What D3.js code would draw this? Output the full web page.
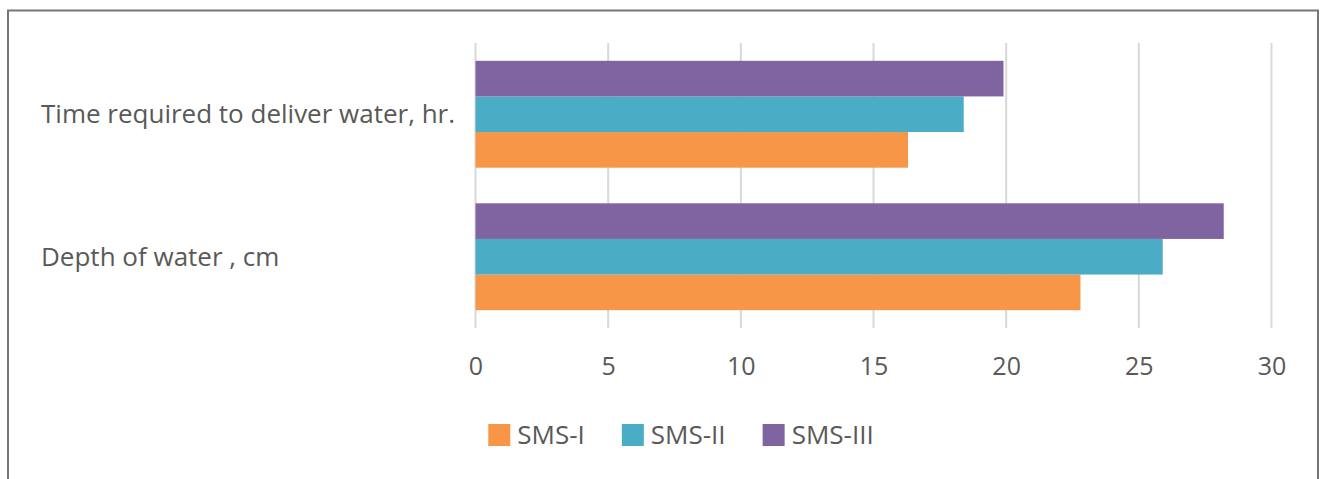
<!DOCTYPE html>
<html>
<head>
<meta charset="utf-8">
<script src="https://cdn.jsdelivr.net/npm/d3@7"></script>
<style>
  body { margin: 0; background: #fff; }
  text { font-family: "Open Sans", sans-serif; fill: #595959; }
</style>
</head>
<body>
<div id="chart"></div>
<script>
// data
const categories = ["Time required to deliver water, hr.", "Depth of water , cm"];
const seriesNames = ["SMS-I", "SMS-II", "SMS-III"];
const seriesColors = ["#f79646", "#4bacc6", "#8064a2"];
const smsI = [16.3, 22.8];
const smsII = [18.4, 25.9];
const smsIII = [19.9, 28.2];
const xTicks = [0, 5, 10, 15, 20, 25, 30];

const seriesValues = [smsI, smsII, smsIII];

const width = 1321, height = 479;
const svg = d3.select("#chart").append("svg")
    .attr("width", width)
    .attr("height", height);

// chart frame
svg.append("rect")
    .attr("x", 8).attr("y", 10.5)
    .attr("width", 1310).attr("height", 500)
    .attr("fill", "none")
    .attr("stroke", "#767676")
    .attr("stroke-width", 2);

const x = d3.scaleLinear().domain([0, 30]).range([475.5, 1271.5]);
const y = d3.scaleBand().domain(categories).range([43, 328])
    .paddingInner(0.25).paddingOuter(0.125);
// SMS-III on top within each group
const ySub = d3.scaleBand().domain(seriesNames.slice().reverse()).range([0, y.bandwidth()]);

// gridlines
svg.append("g")
    .selectAll("line")
    .data(xTicks)
    .enter()
    .append("line")
    .attr("x1", d => x(d)).attr("x2", d => x(d))
    .attr("y1", 43).attr("y2", 328)
    .attr("stroke", "#d9d9d9")
    .attr("stroke-width", 2);

// bars
const rows = [];
categories.forEach(function (c, i) {
    seriesNames.forEach(function (s, j) {
        rows.push({ cat: c, series: s, value: seriesValues[j][i], color: seriesColors[j] });
    });
});

svg.append("g")
    .selectAll("rect")
    .data(rows)
    .enter()
    .append("rect")
    .attr("x", x(0))
    .attr("y", d => y(d.cat) + ySub(d.series))
    .attr("width", d => x(d.value) - x(0))
    .attr("height", ySub.bandwidth())
    .attr("fill", d => d.color);

// x axis labels
const xAxis = svg.append("g")
    .attr("transform", "translate(0,366)")
    .call(d3.axisBottom(x).tickValues(xTicks).tickSize(0).tickPadding(0));
xAxis.select(".domain").remove();
xAxis.selectAll("text")
    .attr("dy", "0.35em")
    .attr("font-size", 25)
    .attr("font-family", "'Open Sans', sans-serif")
    .style("fill", "#595959");

// category labels, left aligned
svg.append("g")
    .selectAll("text")
    .data(categories)
    .enter()
    .append("text")
    .attr("x", 41)
    .attr("y", d => y(d) + y.bandwidth() / 2)
    .attr("dy", "0.35em")
    .attr("font-size", 26)
    .text(d => d);

// legend
const legend = svg.append("g").attr("class", "legend");
let lx = 0;
seriesNames.forEach(function (s, i) {
    const item = legend.append("g").attr("transform", "translate(" + lx + ",0)");
    item.append("rect")
        .attr("x", 0).attr("y", -11)
        .attr("width", 22).attr("height", 22)
        .attr("fill", seriesColors[i]);
    const t = item.append("text")
        .attr("x", 29)
        .attr("dy", "0.35em")
        .attr("font-size", 26)
        .text(s);
    lx += 29 + t.node().getComputedTextLength() + 37;
});
const legendW = lx - 37;
legend.attr("transform", "translate(" + (681 - legendW / 2) + ",435)");
</script>
</body>
</html>
